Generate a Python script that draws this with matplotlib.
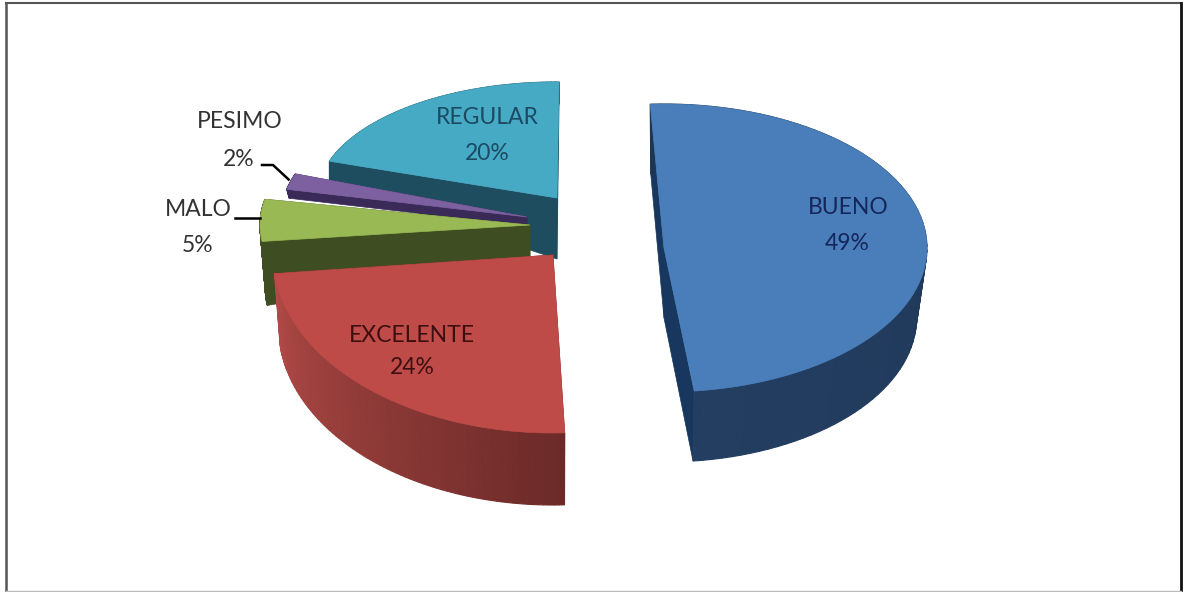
import numpy as np
import matplotlib
matplotlib.use('Agg')
import matplotlib.pyplot as plt
from matplotlib.colors import to_rgb

categories = ['BUENO', 'EXCELENTE', 'MALO', 'PESIMO', 'REGULAR']
values = [49, 24, 5, 2, 20]
pct_labels = ['49%', '24%', '5%', '2%', '20%']

# geometry of each exploded slice, in image pixels (order as categories)
center_x = [664, 553, 530, 527, 557]
center_y = [248, 255, 225, 217, 198]
radius_x = [263, 280, 270, 246, 240]
radius_y = [144, 178, 135, 128, 116]
start_deg = [-3, 177.6, 263, 282.5, 288.5]
rim_depth = [70, 72, 64, 9, 22]
apex_depth = [70, 72, 35, 9, 61]
shrink = [0.96, 0.98, 0.98, 0.99, 1.0]

top_colors = ['#4A7EBB', '#BE4B48', '#98B954', '#7D60A0', '#46AAC5']
cut_colors = ['#17375E', '#6B2A28', '#3E4E22', '#3A2A58', '#1D4D5E']
wall_from = ['#1C3553', '#6B2A28', '#3E4E22', '#3A2A58', '#1D4D5E']
wall_to = ['#243E62', '#B14A47', '#3E4E22', '#3A2A58', '#1D4D5E']
text_colors = ['#15265A', '#3D0F10', '#333333', '#333333', '#1B4A62']
label_xy = [(848, 207), (412, 335), (198, 210), (240, 122), (487, 117)]
pct_xy = [(847, 244), (412, 368), (198, 246), (239, 160), (487, 153)]
draw_order = [4, 3, 2, 1, 0]


def rim(i, t, depth=0, sc=1.0):
    t = np.radians(t)
    return (center_x[i] + radius_x[i] * sc * np.sin(t),
            center_y[i] + depth - radius_y[i] * np.cos(t))


plt.rcParams['font.family'] = ['Lato', 'DejaVu Sans']
fig = plt.figure(figsize=(11.84, 5.92), dpi=100)
ax = fig.add_axes([0, 0, 1, 1])
ax.set_xlim(0, 1184)
ax.set_ylim(592, 0)
ax.axis('off')

# frame of the pasted chart
ax.plot([6, 6], [3, 592], color='#555555', lw=1.8)
ax.plot([6, 1181], [3, 3], color='#555555', lw=1.5)
ax.plot([1181, 1181], [3, 592], color='#111111', lw=2)
ax.plot([6, 1181], [591, 591], color='#bbbbbb', lw=1)

for i in draw_order:
    a0 = start_deg[i]
    a1 = a0 + values[i] * 3.6
    ts = np.linspace(a0, a1, 80)
    apex = (center_x[i], center_y[i])
    apex_low = (center_x[i], center_y[i] + apex_depth[i])
    # the two cut faces
    for t in (a0, a1):
        ax.fill(*zip(apex, rim(i, t), rim(i, t, rim_depth[i], shrink[i]), apex_low),
                color=cut_colors[i], lw=0.5)
    # outer wall, shaded in small steps along the arc
    c0, c1 = np.array(to_rgb(wall_from[i])), np.array(to_rgb(wall_to[i]))
    for k in range(len(ts) - 1):
        t0, t1 = ts[k], ts[k + 1]
        col = c0 + (c1 - c0) * k / (len(ts) - 2)
        ax.fill(*zip(rim(i, t0), rim(i, t1),
                     rim(i, t1, rim_depth[i], shrink[i]), rim(i, t0, rim_depth[i], shrink[i])),
                color=col, lw=0.8)
    # top face
    xs, ys = rim(i, ts)
    ax.fill(np.r_[apex[0], xs], np.r_[apex[1], ys], color=top_colors[i], lw=0.5)

# leader lines for the two thin slices
mid_malo = rim(2, start_deg[2] + values[2] * 1.8)
mid_pesimo = rim(3, start_deg[3] + values[3] * 1.8)
ax.plot([235, mid_malo[0]], [218, 218], color='black', lw=1.8, zorder=3)
ax.plot([262, 273, mid_pesimo[0] - 2], [165, 165, mid_pesimo[1] - 2], color='black', lw=1.8, zorder=3)

for i, name in enumerate(categories):
    ax.text(*label_xy[i], name, color=text_colors[i], fontsize=16.5, ha='center', va='center', zorder=4)
    ax.text(*pct_xy[i], pct_labels[i], color=text_colors[i], fontsize=16.5, ha='center', va='center', zorder=4)

fig.savefig('out.png', dpi=100)
